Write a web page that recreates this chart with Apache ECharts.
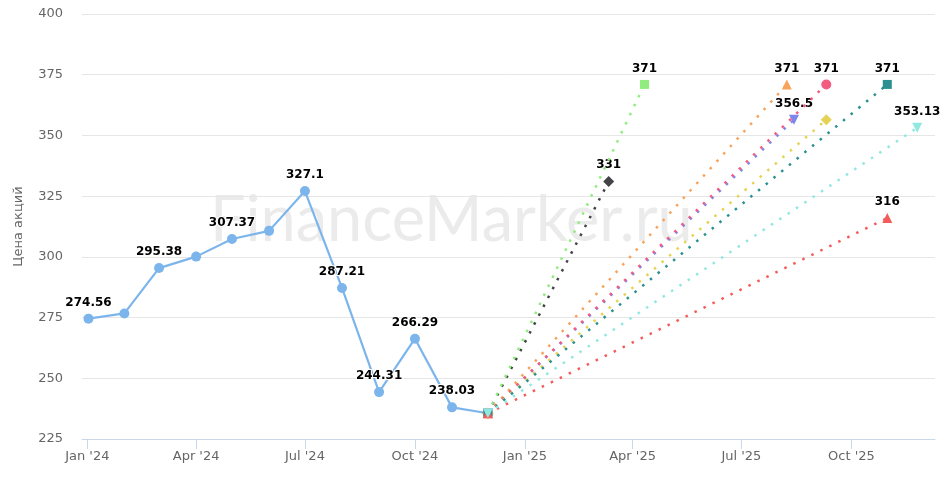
<!DOCTYPE html>
<html>
<head>
<meta charset="utf-8">
<script src="https://cdn.jsdelivr.net/npm/echarts@6.0.0/dist/echarts.min.js"></script>
<style>
  html, body { margin: 0; padding: 0; background: #fff; }
  #chart { width: 945px; height: 479px; }
</style>
</head>
<body>
<div id="chart"></div>
<script>
// история цены (месячные точки)
var mainDates = ['2024-01-02', '2024-02-01', '2024-03-01', '2024-04-01', '2024-05-01', '2024-06-01',
                 '2024-07-01', '2024-08-01', '2024-09-01', '2024-10-01', '2024-11-01', '2024-12-01'];
var mainPrices = [274.56, 276.7, 295.38, 300.1, 307.37, 310.7, 327.1, 287.21, 244.31, 266.29, 238.03, 235.6];
// подписи, которые на картинке скрыты (перекрытие)
var hiddenLabels = [1, 3, 5, 11];

// прогнозы аналитиков: цель и дата
var forecastDates = ['2025-03-12', '2025-04-11', '2025-08-08', '2025-08-14', '2025-09-10',
                     '2025-09-10', '2025-10-31', '2025-10-31', '2025-11-25'];
var forecastTargets = [331, 371, 371, 356.5, 371, 356.5, 371, 316, 353.13];
var forecastLabelHidden = [5];

// деления оси X
var tickDates = ['2024-01-01', '2024-04-01', '2024-07-01', '2024-10-01',
                 '2025-01-01', '2025-04-01', '2025-07-01', '2025-10-01'];
var tickLabels = ["Jan '24", "Apr '24", "Jul '24", "Oct '24", "Jan '25", "Apr '25", "Jul '25", "Oct '25"];

var yTicks = [225, 250, 275, 300, 325, 350, 375, 400];

// стили серий прогноза (цвет, маркер)
var forecastStyles = [
	{color: '#434348', symbol: 'diamond', size: 11, rotate: 0},
	{color: '#90ed7d', symbol: 'rect', size: 9, rotate: 0},
	{color: '#f7a35c', symbol: 'triangle', size: 10, rotate: 0},
	{color: '#8085e9', symbol: 'triangle', size: 10, rotate: 180},
	{color: '#f15c80', symbol: 'circle', size: 10, rotate: 0},
	{color: '#e4d354', symbol: 'diamond', size: 11, rotate: 0},
	{color: '#2b908f', symbol: 'rect', size: 9, rotate: 0},
	{color: '#f45b5b', symbol: 'triangle', size: 10, rotate: 0},
	{color: '#91e8e1', symbol: 'triangle', size: 10, rotate: 180}
];

var FONT = 'DejaVu Sans';
function ts(d) { return +new Date(d + 'T00:00:00Z'); }
var tickTimes = tickDates.map(ts);
var DAY = 86400000;

var labelStyle = {
	position: 'top',
	distance: 5,
	color: '#000',
	fontFamily: FONT,
	fontSize: 12,
	fontWeight: 'bold',
	textBorderColor: '#fff',
	textBorderWidth: 2,
	formatter: function (p) { return String(p.value[1]); }
};

var myChart = echarts.init(document.getElementById('chart'));

var series = [];
var mainData = [];
for (var i = 0; i < mainDates.length; i++) {
	mainData.push({
		value: [ts(mainDates[i]), mainPrices[i]],
		label: {show: hiddenLabels.indexOf(i) < 0}
	});
}
series.push({
	type: 'line',
	data: mainData,
	symbol: 'circle',
	symbolSize: 10,
	lineStyle: {color: '#7cb5ec', width: 2.2},
	itemStyle: {color: '#7cb5ec'},
	label: labelStyle,
	z: 3
});

var startDate = ts(mainDates[mainDates.length - 1]);
var startPrice = mainPrices[mainPrices.length - 1];
for (var k = 0; k < forecastTargets.length; k++) {
	var st = forecastStyles[k];
	series.push({
		type: 'line',
		data: [
			{value: [startDate, startPrice], label: {show: false}},
			{value: [ts(forecastDates[k]), forecastTargets[k]], label: {show: forecastLabelHidden.indexOf(k) < 0}}
		],
		symbol: st.symbol,
		symbolSize: st.size,
		symbolRotate: st.rotate,
		lineStyle: {color: st.color, width: 2.5, type: [2.5, 7.5], cap: 'butt'},
		itemStyle: {color: st.color},
		label: labelStyle,
		z: 4 + k
	});
}

var option = {
	animation: false,
	backgroundColor: '#fff',
	grid: {left: 82, right: 10, top: 14, bottom: 40},
	graphic: [{
		type: 'text',
		left: 210,
		top: 189,
		z: 0,
		silent: true,
		style: {
			text: 'FinanceMarker.ru',
			fontFamily: 'Lato',
			fontSize: 63,
			fill: '#ebebeb'
		}
	}],
	xAxis: {
		type: 'value',
		min: ts('2024-01-01') - 4.43 * DAY,
		max: ts('2024-01-01') + 708.9 * DAY,
		axisLine: {lineStyle: {color: '#ccd6eb', width: 1}},
		axisTick: {show: true, length: 10, lineStyle: {color: '#ccd6eb'}, customValues: tickTimes},
		splitLine: {show: false},
		axisLabel: {
			customValues: tickTimes,
			margin: 11,
			color: '#666',
			fontFamily: FONT,
			fontSize: 13,
			formatter: function (v) {
				var idx = tickTimes.indexOf(v);
				return idx >= 0 ? tickLabels[idx] : '';
			}
		}
	},
	yAxis: {
		type: 'value',
		min: yTicks[0],
		max: yTicks[yTicks.length - 1],
		interval: 25,
		name: 'Цена акций',
		nameLocation: 'middle',
		nameGap: 57,
		nameTextStyle: {color: '#666', fontFamily: FONT, fontSize: 13},
		axisLine: {show: false},
		axisTick: {show: false},
		splitLine: {lineStyle: {color: '#e6e6e6', width: 1}},
		axisLabel: {margin: 19, color: '#666', fontFamily: FONT, fontSize: 13, padding: [3, 0, 0, 0]}
	},
	series: series
};

myChart.setOption(option);
</script>
</body>
</html>
